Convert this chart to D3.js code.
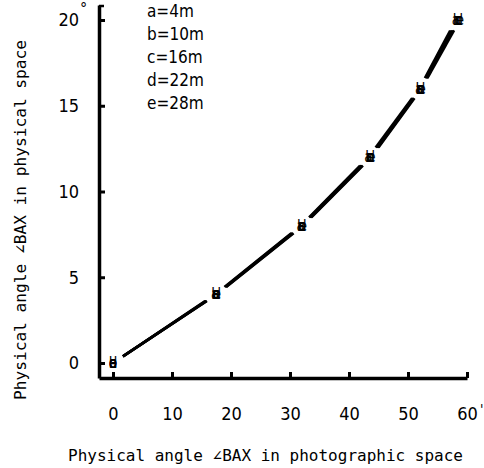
<!DOCTYPE html>
<html>
<head>
<meta charset="utf-8">
<script src="https://cdn.jsdelivr.net/npm/d3@7"></script>
<style>
  body { margin: 0; background: #fff; }
  text { fill: #000; }
</style>
</head>
<body>
<script>
let svgWidth = 484;
let svgHeight = 468;

// data
let seriesNames = ["a", "b", "c", "d", "e"];
let legendLabels = ["a=4m", "b=10m", "c=16m", "d=22m", "e=28m"];
let photoAngles = [
    [0, 17.3, 31.8, 43.3, 51.9, 58.1],
    [0, 17.4, 31.9, 43.5, 52.0, 58.3],
    [0, 17.5, 32.0, 43.6, 52.1, 58.5],
    [0, 17.6, 32.1, 43.7, 52.2, 58.6],
    [0, 17.6, 32.2, 43.8, 52.3, 58.8]
];
let physAngles = [0, 4, 8, 12, 16, 20];
let xTicks = [0, 10, 20, 30, 40, 50, 60];
let yTicks = [0, 5, 10, 15, 20];

let svg = d3.select("body")
    .append("svg")
    .attr("width", svgWidth)
    .attr("height", svgHeight);

let x = d3.scaleLinear().domain([-2.37, 60]).range([99, 467]);
let y = d3.scaleLinear().domain([-0.875, 20.875]).range([378, 5]);

let narrow = "'Liberation Sans Narrow', 'DejaVu Sans Condensed', sans-serif";
let mono = "'DejaVu Sans Mono', monospace";

// X axis
let xAxis = svg.append("g")
    .attr("transform", `translate(0, ${y.range()[0]})`)
    .call(d3.axisBottom(x).tickValues(xTicks).tickSizeInner(-6).tickSizeOuter(0).tickPadding(29));
xAxis.select(".domain").attr("stroke-width", 3.5);
xAxis.selectAll(".tick line").attr("stroke-width", 3);
xAxis.selectAll(".tick text")
    .style("font-family", narrow).style("font-size", "18px");

// Y axis
let yAxis = svg.append("g")
    .attr("transform", `translate(${x.range()[0]}, 0)`)
    .call(d3.axisLeft(y).tickValues(yTicks).tickSizeInner(-6).tickSizeOuter(0).tickPadding(20));
yAxis.select(".domain").attr("stroke-width", 3.5);
yAxis.selectAll(".tick line").attr("stroke-width", 3);
yAxis.selectAll(".tick text")
    .style("font-family", narrow).style("font-size", "18px");

// small stub at top of y axis
svg.append("line")
    .attr("x1", x.range()[0]).attr("x2", x.range()[0] + 5)
    .attr("y1", y.range()[1] + 1).attr("y2", y.range()[1] + 1)
    .attr("stroke", "#000").attr("stroke-width", 2.5);

// degree marks
svg.append("text").attr("x", 80).attr("y", 14)
    .style("font-family", narrow).style("font-size", "16px").text("°");
svg.append("text").attr("x", 480).attr("y", 414)
    .style("font-family", narrow).style("font-size", "14px").text("'");

// lines with gaps around the markers
let gap = 12;
photoAngles.forEach(function(xs, s) {
    for (let i = 0; i < xs.length - 1; i++) {
        let x0 = x(xs[i]), y0 = y(physAngles[i]);
        let x1 = x(xs[i + 1]), y1 = y(physAngles[i + 1]);
        let len = Math.hypot(x1 - x0, y1 - y0);
        let ux = (x1 - x0) / len, uy = (y1 - y0) / len;
        svg.append("line")
            .attr("x1", x0 + ux * gap).attr("y1", y0 + uy * gap)
            .attr("x2", x1 - ux * gap).attr("y2", y1 - uy * gap)
            .attr("stroke", "#000")
            .attr("stroke-width", 2.5);
    }
});

// letter markers
photoAngles.forEach(function(xs, s) {
    svg.append("g").selectAll("text")
        .data(xs)
        .enter()
        .append("text")
        .attr("x", d => x(d))
        .attr("y", (d, i) => y(physAngles[i]) + 5)
        .attr("text-anchor", "middle")
        .style("font-family", narrow)
        .style("font-size", "15px")
        .text(seriesNames[s]);
});

// legend
svg.append("g").selectAll("text")
    .data(legendLabels)
    .enter()
    .append("text")
    .attr("x", 147)
    .attr("y", (d, i) => 17 + i * 23)
    .style("font-family", narrow)
    .style("font-size", "17px")
    .text(d => d);

// axis titles
svg.append("text")
    .attr("x", 68).attr("y", 461)
    .attr("textLength", 395).attr("lengthAdjust", "spacingAndGlyphs")
    .style("font-family", mono).style("font-size", "16px")
    .text("Physical angle ∠BAX in photographic space");

svg.append("text")
    .attr("transform", "translate(26, 400) rotate(-90)")
    .attr("textLength", 360).attr("lengthAdjust", "spacingAndGlyphs")
    .style("font-family", mono).style("font-size", "16px")
    .text("Physical angle ∠BAX in physical space");
</script>
</body>
</html>
